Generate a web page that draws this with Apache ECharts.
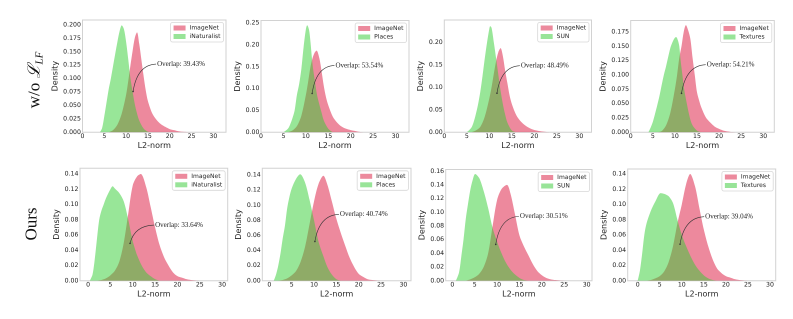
<!DOCTYPE html>
<html><head><meta charset="utf-8">
<script src="https://cdn.jsdelivr.net/npm/echarts@6/dist/echarts.min.js"></script>
<style>html,body{margin:0;padding:0;background:#fff}#c{width:793px;height:319px}</style>
</head><body><div id="c"></div>
<script>
// ---------- labels ----------
const oodNames = ['iNaturalist', 'Places', 'SUN', 'Textures'];
const overlapWo = ['Overlap: 39.43%', 'Overlap: 53.54%', 'Overlap: 48.49%', 'Overlap: 54.21%'];
const overlapOurs = ['Overlap: 33.64%', 'Overlap: 40.74%', 'Overlap: 30.51%', 'Overlap: 39.04%'];
const xTickValues = [0, 5, 10, 15, 20, 25, 30];
const yTicksA = [0, 0.025, 0.05, 0.075, 0.1, 0.125, 0.15, 0.175, 0.2];
const yTicksB = [0, 0.05, 0.1, 0.15, 0.2, 0.25];
const yTicksC = [0, 0.05, 0.1, 0.15, 0.2];
const yTicksD = [0, 0.025, 0.05, 0.075, 0.1, 0.125, 0.15, 0.175];
const yTicksE = [0, 0.02, 0.04, 0.06, 0.08, 0.1, 0.12, 0.14];
const yTicksF = [0, 0.02, 0.04, 0.06, 0.08, 0.1, 0.12, 0.14, 0.16];

// ---------- density curves [L2-norm, density] ----------
// top row: w/o L_LF
const woINat_IN = [[6,0],[7,0.004],[8,0.014],[9,0.035],[10,0.07],[10.5,0.096],[11,0.125],[11.5,0.152],[12,0.176],[12.5,0.186],[13,0.165],[13.5,0.135],[14,0.105],[14.5,0.078],[15,0.058],[16,0.035],[17,0.023],[18,0.015],[19,0.01],[20,0.006],[21,0.004],[22,0.002],[23,0.001],[25,0]];
const woINat_OOD = [[4,0],[4.5,0.008],[5,0.03],[5.5,0.055],[6,0.08],[6.5,0.1],[7,0.123],[7.5,0.146],[8,0.168],[8.5,0.188],[9,0.199],[9.5,0.192],[10,0.168],[10.5,0.135],[11,0.1],[11.5,0.075],[12,0.052],[12.5,0.035],[13,0.022],[14,0.007],[15,0.001],[16,0]];
const woPlaces_IN = [[6,0],[7,0.004],[8,0.014],[9,0.038],[10,0.085],[10.5,0.115],[11,0.148],[11.5,0.17],[12,0.183],[12.4,0.187],[13,0.17],[13.5,0.14],[14,0.106],[14.5,0.08],[15,0.062],[16,0.036],[17,0.022],[18,0.013],[19,0.008],[20,0.005],[21,0.003],[22,0.001],[23,0]];
const woPlaces_OOD = [[5,0],[6,0.008],[6.5,0.018],[7,0.032],[7.5,0.05],[8,0.085],[8.5,0.11],[9,0.145],[9.5,0.195],[10,0.235],[10.3,0.245],[10.7,0.235],[11,0.21],[11.5,0.155],[12,0.118],[12.5,0.085],[13,0.064],[13.5,0.045],[14,0.027],[15,0.008],[16,0]];
const woSUN_IN = [[6,0],[7,0.004],[8,0.012],[9,0.035],[10,0.075],[10.5,0.1],[11,0.13],[11.5,0.158],[12,0.178],[12.5,0.187],[13,0.17],[13.5,0.138],[14,0.11],[14.5,0.082],[15,0.063],[16,0.038],[17,0.024],[18,0.015],[19,0.009],[20,0.005],[21,0.003],[22,0.0015],[23,0.0005],[24,0]];
const woSUN_OOD = [[5,0],[6,0.01],[6.5,0.022],[7,0.04],[7.5,0.062],[8,0.09],[8.5,0.126],[9,0.165],[9.5,0.2],[10,0.23],[10.2,0.236],[10.5,0.232],[11,0.2],[11.5,0.165],[12,0.128],[12.5,0.092],[13,0.063],[13.5,0.04],[14,0.022],[15,0.004],[16,0]];
const woTex_IN = [[6,0],[7,0.002],[8,0.012],[9,0.035],[10,0.075],[10.5,0.1],[11,0.13],[11.5,0.15],[12,0.175],[12.5,0.187],[13,0.178],[13.5,0.163],[14,0.13],[14.5,0.1],[15,0.07],[15.5,0.055],[16,0.043],[17,0.026],[18,0.017],[19,0.01],[20,0.006],[21,0.003],[22,0.0015],[23,0.0005],[24,0]];
const woTex_OOD = [[4,0],[4.5,0.008],[5,0.018],[5.5,0.032],[6,0.047],[6.5,0.063],[7,0.082],[7.5,0.1],[8,0.115],[8.5,0.132],[9,0.148],[9.5,0.158],[10,0.165],[10.3,0.166],[10.7,0.16],[11,0.15],[11.3,0.125],[11.7,0.1],[12.1,0.075],[12.7,0.05],[13.4,0.025],[14,0.012],[15,0.003],[16,0]];
// bottom row: Ours
const oursINat_IN = [[2,0],[3,0.001],[4,0.003],[5,0.007],[6,0.013],[7,0.025],[8,0.05],[9,0.088],[10,0.125],[11,0.137],[11.8,0.14],[13,0.123],[14,0.097],[15,0.07],[16,0.047],[17,0.031],[18,0.02],[19,0.011],[20,0.006],[21,0.004],[22,0.002],[23,0.001],[25,0]];
const oursINat_OOD = [[0.4,0],[1,0.008],[1.5,0.028],[2,0.055],[2.5,0.08],[3,0.092],[3.5,0.1],[4,0.108],[5,0.12],[5.5,0.124],[6,0.121],[7,0.115],[8,0.104],[9,0.08],[10,0.052],[11,0.033],[12,0.02],[13,0.011],[14,0.006],[15,0.002],[16,0]];
const oursPlaces_IN = [[2,0],[3,0.001],[4,0.003],[5,0.007],[6,0.013],[7,0.025],[8,0.045],[9,0.075],[10,0.105],[11,0.128],[12.1,0.139],[13,0.127],[14,0.105],[15,0.082],[16,0.063],[17,0.046],[18,0.03],[19,0.018],[20,0.009],[21,0.005],[22,0.002],[23,0.001],[25,0]];
const oursPlaces_OOD = [[1,0],[1.5,0.008],[2,0.02],[2.5,0.036],[3,0.056],[3.5,0.073],[4,0.096],[4.5,0.111],[5,0.122],[6,0.135],[6.9,0.141],[8,0.13],[9,0.107],[10,0.08],[11,0.052],[12,0.034],[13,0.018],[14,0.008],[15,0.002],[16,0]];
const oursSUN_IN = [[3,0],[4,0.002],[5,0.005],[6,0.01],[7,0.02],[8,0.04],[9,0.08],[10,0.118],[11,0.134],[12.2,0.14],[13,0.127],[14,0.097],[15,0.066],[16,0.05],[17,0.037],[18,0.024],[19,0.014],[20,0.008],[21,0.004],[22,0.002],[23,0.001],[25,0]];
const oursSUN_OOD = [[0.8,0],[1.5,0.012],[2,0.035],[2.5,0.06],[3,0.09],[3.5,0.112],[4,0.132],[4.5,0.146],[5.1,0.156],[6,0.15],[7,0.131],[8,0.106],[9,0.077],[10,0.057],[11,0.04],[12,0.026],[13,0.016],[14,0.009],[15,0.004],[16,0.001],[17,0]];
const oursTex_IN = [[2,0],[3,0.001],[4,0.003],[5,0.006],[6,0.012],[7,0.024],[8,0.045],[9,0.075],[10,0.1],[11,0.127],[11.9,0.14],[13,0.124],[14,0.095],[15,0.067],[16,0.045],[17,0.028],[18,0.016],[19,0.01],[20,0.006],[21,0.004],[22,0.002],[23,0.001],[25,0]];
const oursTex_OOD = [[0,0],[0.5,0.013],[1,0.035],[1.5,0.06],[2,0.075],[3,0.092],[4,0.104],[5.2,0.115],[6,0.114],[7,0.111],[8,0.102],[9,0.08],[10,0.06],[11,0.045],[12,0.032],[13,0.021],[14,0.013],[15,0.007],[16,0.003],[17,0.001],[18,0]];

// annotation anchors in data units: [textX, textY, tipX, tipY]
const annWo = [[17.1,0.127,11.6,0.076],[16.6,0.153,11.4,0.089],[17.0,0.148,11.7,0.087],[17.2,0.118,11.5,0.068]];
const annOurs = [[15.0,0.073,9.4,0.049],[15.8,0.088,10.2,0.052],[15.1,0.094,9.7,0.053],[15.3,0.084,9.6,0.048]];

// ---------- layout (pixels) ----------
const panels = [
  {l:82.5, t:20,   r:226,   b:132.3, xmin:0,     xmax:32.9, ymax:0.209,  yt:yTicksA, dec:3, gap:16,   IN:woINat_IN,  OOD:woINat_OOD,  txt:overlapWo[0],  ann:annWo[0]},
  {l:261,  t:20.5, r:409,   b:132.3, xmin:0,     xmax:33,   ymax:0.256,  yt:yTicksB, dec:2, gap:12,   IN:woPlaces_IN,OOD:woPlaces_OOD,txt:overlapWo[1],  ann:annWo[1]},
  {l:444.3,t:20,   r:591.5, b:132.3, xmin:0,     xmax:32.7, ymax:0.2496, yt:yTicksC, dec:2, gap:13,   IN:woSUN_IN,   OOD:woSUN_OOD,   txt:overlapWo[2],  ann:annWo[2]},
  {l:630.7,t:20.5, r:774.3, b:132.3, xmin:0,     xmax:32.5, ymax:0.195,  yt:yTicksD, dec:3, gap:17.5, IN:woTex_IN,   OOD:woTex_OOD,   txt:overlapWo[3],  ann:annWo[3]},
  {l:80,   t:168.3,r:227.7, b:280.7, xmin:-1.8,  xmax:31.25,ymax:0.1475, yt:yTicksE, dec:2, gap:13,   IN:oursINat_IN,  OOD:oursINat_OOD,  txt:overlapOurs[0], ann:annOurs[0]},
  {l:262.3,t:168.3,r:411,   b:280.7, xmin:-1.57, xmax:31.7, ymax:0.1489, yt:yTicksE, dec:2, gap:12.5, IN:oursPlaces_IN,OOD:oursPlaces_OOD,txt:overlapOurs[1], ann:annOurs[1]},
  {l:445.7,t:169.5,r:592,   b:280.7, xmin:-1.48, xmax:31.2, ymax:0.1625, yt:yTicksF, dec:2, gap:12.5, IN:oursSUN_IN,   OOD:oursSUN_OOD,   txt:overlapOurs[2], ann:annOurs[2]},
  {l:627.7,t:169,  r:775.7, b:280.7, xmin:-2.27, xmax:31.3, ymax:0.1466, yt:yTicksE, dec:2, gap:13,   IN:oursTex_IN,   OOD:oursTex_OOD,   txt:overlapOurs[3], ann:annOurs[3]}
];

const W = 793;
const txtColor = '#262626';
const sans = 'DejaVu Sans';
const serif = 'Liberation Serif';

const chart = echarts.init(document.getElementById('c'), null, {renderer: 'canvas', devicePixelRatio: 2});

const grid = [], xAxis = [], yAxis = [], series = [], legend = [];
panels.forEach((p, i) => {
  grid.push({left: p.l, top: p.t, width: p.r - p.l, height: p.b - p.t, show: true,
    borderColor: '#d2d2d2', borderWidth: 1, backgroundColor: 'transparent',
    containLabel: false, outerBoundsMode: 'none'});
  xAxis.push({type: 'value', gridIndex: i, min: p.xmin, max: p.xmax,
    axisLine: {show: false}, axisTick: {show: false}, splitLine: {show: false},
    axisLabel: {customValues: xTickValues, fontSize: 6.2, fontFamily: sans, color: txtColor, margin: 1.2},
    name: 'L2-norm', nameLocation: 'middle', nameGap: 9.5,
    nameTextStyle: {fontSize: 8, fontFamily: sans, color: txtColor}});
  yAxis.push({type: 'value', gridIndex: i, min: 0, max: p.ymax,
    axisLine: {show: false}, axisTick: {show: false}, splitLine: {show: false},
    axisLabel: {customValues: p.yt, fontSize: 6.2, fontFamily: sans, color: txtColor, margin: 1.6,
      formatter: v => Number(v).toFixed(p.dec)},
    name: 'Density', nameLocation: 'middle', nameGap: p.gap,
    nameTextStyle: {fontSize: 8, fontFamily: sans, color: txtColor}});
  series.push({type: 'line', name: 'ImageNet', xAxisIndex: i, yAxisIndex: i, data: p.IN,
    smooth: 0.3, symbol: 'none', showSymbol: false,
    lineStyle: {width: 0}, itemStyle: {color: '#ec8a9d'},
    areaStyle: {color: 'rgba(220,20,60,0.5)', opacity: 1}, silent: true, z: 2});
  series.push({type: 'line', name: oodNames[i % 4], xAxisIndex: i, yAxisIndex: i, data: p.OOD,
    smooth: 0.3, symbol: 'none', showSymbol: false,
    lineStyle: {width: 0}, itemStyle: {color: '#98e498'},
    areaStyle: {color: 'rgba(50,205,50,0.5)', opacity: 1}, silent: true, z: 3});
  legend.push({data: ['ImageNet', oodNames[i % 4]], orient: 'vertical', align: 'left',
    right: W - p.r + 2.5, top: p.t + 2.5, padding: [2.5, 3, 2.5, 3], itemGap: 2.5,
    itemWidth: 12, itemHeight: 5, icon: 'rect', selectedMode: false,
    borderColor: '#d8d8d8', borderWidth: 0.8, borderRadius: 2, backgroundColor: 'rgba(255,255,255,0.85)',
    textStyle: {fontSize: 6, fontFamily: sans, color: txtColor, padding: [0, 0, 0, -1]}});
});

chart.setOption({
  animation: false,
  backgroundColor: '#ffffff',
  grid, xAxis, yAxis, series, legend
});

// annotations + row titles
const graphic = [];
panels.forEach((p, i) => {
  const a = p.ann;
  const t = chart.convertToPixel({gridIndex: i}, [a[0], a[1]]);
  const tip = chart.convertToPixel({gridIndex: i}, [a[2], a[3]]);
  const sx = t[0] - 1, sy = t[1];
  graphic.push({type: 'text', x: t[0], y: t[1], z: 20,
    style: {text: p.txt, fontSize: 7, fontFamily: serif, fill: '#222', align: 'left', verticalAlign: 'middle'}});
  graphic.push({type: 'bezierCurve', z: 20,
    shape: {x1: sx, y1: sy, x2: tip[0], y2: tip[1], cpx1: tip[0] + 0.18 * (sx - tip[0]), cpy1: sy + 0.03 * (tip[1] - sy)},
    style: {stroke: '#333', lineWidth: 0.6, fill: null}});
  graphic.push({type: 'circle', z: 20, shape: {cx: tip[0], cy: tip[1], r: 0.8}, style: {fill: '#333'}});
});
graphic.push({type: 'text', x: 35, y: 80, rotation: Math.PI / 2, z: 20,
  style: {text: '{a|w/o }{b|\u2112}{c|LF}', align: 'center', verticalAlign: 'middle', fill: '#111',
    rich: {a: {fontSize: 17, fontFamily: serif, fill: '#111'},
           b: {fontSize: 17, fontFamily: 'DejaVu Serif', fontStyle: 'italic', fill: '#111'},
           c: {fontSize: 11, fontFamily: serif, fontStyle: 'italic', fill: '#111', padding: [9, 0, 0, 0]}}}});
graphic.push({type: 'text', x: 32, y: 224, rotation: Math.PI / 2, z: 20,
  style: {text: 'Ours', fontSize: 17, fontFamily: serif, fill: '#111', align: 'center', verticalAlign: 'middle'}});
chart.setOption({graphic});
</script>
</body></html>
